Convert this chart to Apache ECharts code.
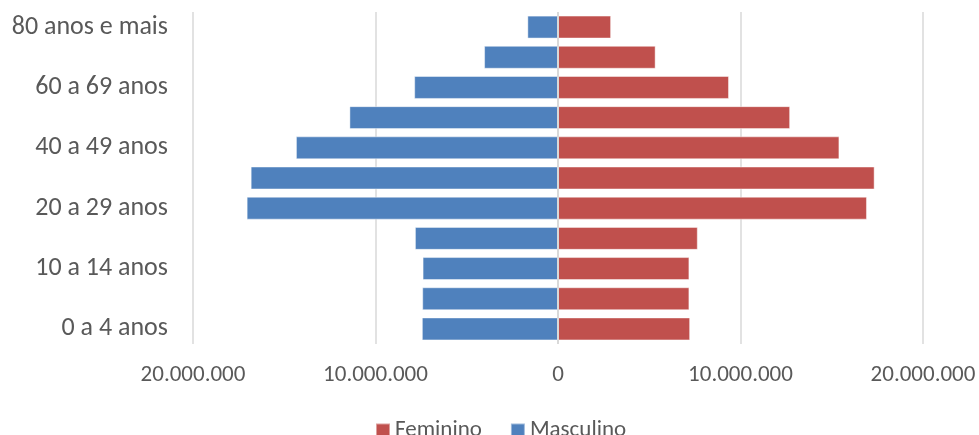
<!DOCTYPE html>
<html>
<head>
<meta charset="utf-8">
<style>
  html, body { margin: 0; padding: 0; background: #ffffff; }
  #chart { width: 979px; height: 435px; }
</style>
<script src="https://cdn.jsdelivr.net/npm/echarts@6/dist/echarts.min.js"></script>
</head>
<body>
<div id="chart"></div>
<script>
// Age groups, bottom to top
const categories = [
  '0 a 4 anos', '5 a 9 anos', '10 a 14 anos', '15 a 19 anos', '20 a 29 anos',
  '30 a 39 anos', '40 a 49 anos', '50 a 59 anos', '60 a 69 anos', '70 a 79 anos',
  '80 anos e mais'
];
// Population by age group
const masculino = [7460000, 7440000, 7420000, 7840000, 17060000, 16840000, 14360000, 11430000, 7880000, 4050000, 1680000];
const feminino  = [7240000, 7200000, 7200000, 7660000, 16930000, 17350000, 15420000, 12720000, 9370000, 5350000, 2910000];
const xTicks = [-20000000, -10000000, 0, 10000000, 20000000];

const FONT = 'Carlito, Lato, sans-serif';
const TEXT = '#595959';

function fmt(v) {
  return Math.abs(v).toString().replace(/\B(?=(\d{3})+(?!\d))/g, '.');
}

const chart = echarts.init(document.getElementById('chart'));
chart.setOption({
  animation: false,
  backgroundColor: '#ffffff',
  textStyle: { fontFamily: FONT },
  grid: { left: 193, right: 56, top: 12, bottom: 91, containLabel: false },
  legend: {
    data: ['Feminino', 'Masculino'],
    left: 370, top: 414,
    icon: 'rect', itemWidth: 14, itemHeight: 14, itemGap: 28,
    textStyle: { color: TEXT, fontSize: 23, fontFamily: FONT }
  },
  xAxis: {
    type: 'value',
    min: xTicks[0], max: xTicks[xTicks.length - 1], interval: 10000000,
    axisLine: { show: false },
    axisTick: { show: false },
    splitLine: { lineStyle: { color: '#d9d9d9', width: 1.5 } },
    axisLabel: { color: TEXT, fontSize: 23, margin: 20, formatter: fmt }
  },
  yAxis: {
    type: 'category',
    data: categories,
    axisLine: { show: false },
    axisTick: { show: false },
    axisLabel: { color: TEXT, fontSize: 26, margin: 25, interval: 1 }
  },
  series: [
    {
      name: 'Masculino', type: 'bar',
      data: masculino.map(v => -v),
      barGap: '-100%', barCategoryGap: '24%',
      itemStyle: { color: '#4F81BD', borderColor: 'rgba(255,255,255,0.45)', borderWidth: 1 },
      markLine: {
        silent: true, symbol: 'none', label: { show: false },
        lineStyle: { color: '#d9d9d9', width: 2, type: 'solid' },
        data: [{ xAxis: 0 }],
        z: 10
      }
    },
    {
      name: 'Feminino', type: 'bar',
      data: feminino,
      itemStyle: { color: '#C0504D', borderColor: 'rgba(255,255,255,0.45)', borderWidth: 1 }
    }
  ]
});
</script>
</body>
</html>
